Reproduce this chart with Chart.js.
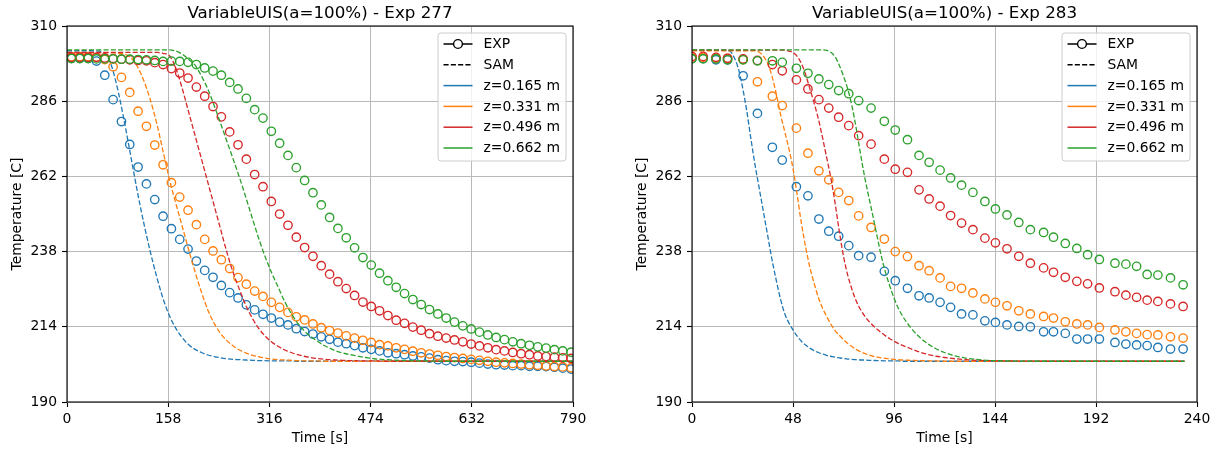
<!DOCTYPE html>
<html><head><meta charset="utf-8">
<script src="https://cdn.jsdelivr.net/npm/chart.js@4.4.1/dist/chart.umd.min.js"></script>
<style>
html,body{margin:0;padding:0;background:#fff;}
#wrap{position:relative;width:1221px;height:450px;overflow:hidden;background:#fff;}
canvas{position:absolute;top:0;}
</style></head><body>
<div id="wrap">
<canvas id="cL" width="610" height="450" style="left:0px;width:610px;height:450px"></canvas>
<canvas id="cR" width="606" height="450" style="left:615px;width:606px;height:450px"></canvas>
</div>
<script>
// ---------- labels ----------
const titleL = 'VariableUIS(a=100%) - Exp 277';
const titleR = 'VariableUIS(a=100%) - Exp 283';
const xLabel = 'Time [s]';
const yLabel = 'Temperature [C]';
const legendLabels = ['EXP', 'SAM', 'z=0.165 m', 'z=0.331 m', 'z=0.496 m', 'z=0.662 m'];
const zLabels = ['z=0.165 m', 'z=0.331 m', 'z=0.496 m', 'z=0.662 m'];
const colors = ['#1f77b4', '#ff7f0e', '#d62728', '#2ca02c'];

// ---------- ticks ----------
const yTicks = [190, 214, 238, 262, 286, 310];
const xTicksL = [0, 158, 316, 474, 632, 790];
const xTicksR = [0, 48, 96, 144, 192, 240];

// ---------- Exp 277 (left) measured ----------
const timeExpL = [7,20,33,46,59,72,85,98,111,124,137,150,163,176,189,202,215,228,241,254,267,280,293,306,319,332,345,358,371,384,397,410,423,436,449,462,475,488,501,514,527,540,553,566,579,592,605,618,631,644,657,670,683,696,709,722,735,748,761,774,787];
const expL_z165 = [299.7,299.7,299.7,298.8,294.3,286.5,279.5,272.2,265.0,259.6,254.6,249.3,245.3,241.9,238.8,235.0,232.0,229.8,227.2,224.9,223.2,221.0,219.4,218.0,216.8,215.5,214.6,213.4,212.5,211.7,210.8,210.0,209.1,208.6,208.0,207.3,206.8,206.3,205.7,205.4,205.1,204.7,204.4,204.0,203.5,203.2,203.0,202.9,202.7,202.4,202.1,201.9,201.8,201.6,201.6,201.4,201.4,201.3,201.1,200.8,200.5];
const expL_z331 = [300.2,300.2,300.2,300.0,299.3,297.0,293.6,288.8,282.8,278.0,272.0,265.7,260.0,255.4,251.2,246.6,241.9,238.2,235.4,232.6,229.7,227.6,225.4,223.7,221.8,220.2,218.6,217.2,216.2,214.9,213.7,212.8,212.0,211.1,210.4,209.7,209.0,208.3,207.9,207.3,206.8,206.2,205.7,205.3,204.9,204.5,204.2,203.9,203.6,203.3,203.0,202.7,202.5,202.3,202.1,201.9,201.7,201.5,201.3,201.2,200.9];
const expL_z496 = [300.0,300.0,300.0,300.0,299.8,299.6,299.4,299.2,299.0,298.9,298.3,297.7,296.4,295.0,293.4,290.5,287.6,284.3,281.0,276.2,272.1,267.5,262.6,258.7,254.0,250.0,246.4,242.6,239.3,236.5,233.5,230.8,228.4,226.2,224.0,221.9,220.5,219.1,217.6,216.1,215.1,213.9,212.9,211.8,211.0,210.4,209.8,209.2,208.5,207.9,207.3,206.7,206.3,205.8,205.4,205.1,204.7,204.5,204.3,204.1,203.9];
const expL_z662 = [299.6,299.6,299.6,299.5,299.5,299.5,299.4,299.4,299.3,299.2,299.0,298.7,298.8,298.7,298.4,297.7,296.6,295.6,294.3,292.0,289.9,286.9,283.3,280.6,276.4,272.6,268.7,264.8,260.7,256.8,252.9,248.9,245.4,242.4,239.2,236.1,233.7,231.1,228.7,226.6,224.6,222.7,221.1,219.5,218.1,216.8,215.5,214.3,213.3,212.3,211.4,210.6,209.9,209.2,208.6,208.1,207.6,207.2,206.7,206.3,205.9];

// ---------- Exp 277 (left) SAM ----------
const samTimeL = [0,40,55,60,65,70,80,90,100,110,120,130,140,150,160,170,180,190,200,210,220,230,240,250,260,270,280,290,300,310,320,330,340,350,360,370,380,390,400,410,420,430,440,450,460,470,480,500,530,560,600,650,700,789];
const samL_z165 = [302.1,302.1,301.8,301.0,299.5,297.0,289.0,279.0,268.0,257.0,247.0,238.0,230.0,223.0,217.5,213.5,210.5,208.3,206.8,205.8,205.0,204.5,204.1,203.8,203.6,203.5,203.4,203.3,203.2,203.2,203.1,203.1,203.1,203.1,203.0,203.0,203.0,203.0,203.0,203.0,203.0,203.0,203.0,203.0,203.0,203.0,203.0,203.0,203.0,203.0,203.0,203.0,203.0,203.0];
const samL_z331 = [301.4,301.4,301.4,301.4,301.4,301.4,301.3,301.0,299.8,297.0,292.5,286.5,279.0,270.0,261.0,253.3,246.0,238.5,231.5,225.0,219.3,215.0,211.8,209.5,207.8,206.5,205.6,204.9,204.4,204.0,203.7,203.5,203.4,203.3,203.2,203.1,203.1,203.1,203.0,203.0,203.0,203.0,203.0,203.0,203.0,203.0,203.0,203.0,203.0,203.0,203.0,203.0,203.0,203.0];
const samL_z496 = [301.6,301.6,301.6,301.6,301.6,301.6,301.6,301.6,301.6,301.6,301.6,301.6,301.6,301.3,300.5,296.5,290.0,282.5,275.0,267.5,260.0,252.5,245.0,237.5,231.0,225.5,220.5,216.5,213.3,210.9,209.1,207.7,206.6,205.8,205.1,204.6,204.2,203.9,203.7,203.5,203.4,203.3,203.2,203.2,203.1,203.1,203.1,203.0,203.0,203.0,203.0,203.0,203.0,203.0];
const samL_z662 = [302.4,302.4,302.4,302.4,302.4,302.4,302.4,302.4,302.4,302.4,302.4,302.4,302.4,302.4,302.4,302.0,301.0,299.3,297.5,294.0,289.8,284.5,278.8,273.0,267.2,261.2,254.8,248.2,241.8,236.0,231.0,226.5,222.0,218.3,215.2,212.8,211.0,209.5,208.2,207.2,206.3,205.7,205.2,204.8,204.4,204.1,203.8,203.5,203.2,203.1,203.0,203.0,203.0,203.0];

// ---------- Exp 283 (right) measured ----------
const timeExpR = [0,5.3,11.4,16.9,24.3,31.1,38.2,42.9,49.6,55.1,60.3,65.0,69.7,74.5,79.2,85.1,91.4,96.6,102.4,107.9,112.7,117.9,122.9,128.1,133.5,139.2,144.2,149.7,155.3,160.8,167.1,171.8,177.4,182.9,188.0,193.6,201.0,206.2,211.3,216.3,221.4,227.4,233.4];
const expR_z165 = [299.7,299.7,299.2,299.2,294.1,282.1,271.3,267.2,258.7,255.8,248.4,244.5,242.9,239.9,236.7,236.2,231.7,228.7,226.3,223.9,223.2,221.8,220.2,218.1,217.8,215.9,215.4,214.6,214.1,214.0,212.4,212.4,211.9,210.1,210.1,210.1,209.0,208.5,208.2,208.0,207.4,206.9,206.9];
const expR_z331 = [300.0,300.0,299.7,299.7,299.3,292.2,287.6,284.6,277.4,269.4,263.8,260.9,256.9,254.3,249.4,245.7,242.0,238.0,236.4,233.5,231.9,229.6,226.9,226.3,224.8,222.9,221.8,220.7,219.1,218.1,217.3,216.8,215.6,214.9,214.6,213.8,213.0,212.4,211.9,211.5,211.4,210.8,210.4];
const expR_z496 = [300.3,300.3,300.0,299.7,299.5,299.0,297.7,295.7,292.8,289.9,286.5,283.8,280.9,278.2,275.0,272.3,267.5,264.3,263.3,257.7,254.8,252.5,249.5,247.1,245.0,242.3,240.8,238.9,236.5,234.3,232.8,231.4,229.8,228.5,227.7,226.4,225.2,224.1,223.4,222.5,222.1,221.3,220.5];
const expR_z662 = [299.5,299.5,299.5,299.2,299.2,298.9,298.9,298.4,296.5,294.9,293.1,291.3,289.4,288.4,286.2,283.8,279.6,276.8,273.7,268.7,266.5,264.0,261.5,259.2,256.9,254.0,251.6,249.7,247.3,245.0,244.1,242.6,240.6,239.0,237.0,235.5,234.3,234.0,233.3,230.7,230.5,229.6,227.4];

// ---------- Exp 283 (right) SAM ----------
const samTimeR = [0,15,18,20,22,24,26,28,30,32,34,36,38,40,42,44,46,48,50,52,54,56,58,60,62,64,66,68,70,72,74,76,78,80,82,84,86,88,90,92,94,96,98,100,104,108,112,116,120,125,130,135,140,150,170,200,234];
const samR_z165 = [302.3,302.3,302.0,300.0,296.5,290.5,283.0,274.0,265.5,258.0,250.5,243.0,235.5,229.0,223.0,218.3,215.3,213.0,211.0,209.4,208.2,207.2,206.4,205.8,205.3,204.9,204.6,204.3,204.1,203.9,203.7,203.6,203.5,203.4,203.4,203.3,203.3,203.2,203.2,203.1,203.1,203.1,203.1,203.0,203.0,203.0,203.0,203.0,203.0,203.0,203.0,203.0,203.0,203.0,203.0,203.0,203.0];
const samR_z331 = [302.1,302.1,302.1,302.1,302.1,302.1,302.1,302.1,302.1,301.6,300.3,298.0,294.0,288.5,282.0,276.5,271.0,264.5,256.0,247.0,239.5,233.0,228.0,223.5,220.0,217.3,214.8,212.8,211.3,209.9,208.7,207.7,206.8,206.1,205.5,205.0,204.6,204.3,204.1,203.9,203.8,203.6,203.5,203.4,203.3,203.2,203.1,203.1,203.0,203.0,203.0,203.0,203.0,203.0,203.0,203.0,203.0];
const samR_z496 = [302.3,302.3,302.3,302.3,302.3,302.3,302.3,302.3,302.3,302.3,302.3,302.3,302.3,302.3,302.3,302.3,302.0,301.5,300.3,298.0,294.5,290.0,285.5,280.5,274.5,268.0,261.5,253.5,244.5,236.5,230.5,226.0,222.3,219.6,217.5,215.8,214.4,213.2,212.1,211.1,210.2,209.4,208.7,208.1,207.0,206.0,205.2,204.6,204.2,203.8,203.5,203.3,203.2,203.1,203.0,203.0,203.0];
const samR_z662 = [302.4,302.4,302.4,302.4,302.4,302.4,302.4,302.4,302.4,302.4,302.4,302.4,302.4,302.4,302.4,302.4,302.4,302.4,302.4,302.4,302.4,302.4,302.4,302.4,302.4,302.2,301.6,300.2,297.5,294.0,289.9,284.5,277.5,269.5,262.0,255.5,249.3,242.8,236.5,231.3,227.0,223.2,220.0,217.5,213.7,210.8,208.6,207.0,205.8,204.7,204.0,203.6,203.3,203.1,203.0,203.0,203.0];

// ---------- drawing ----------
const FONT = '"DejaVu Sans", "Liberation Sans", sans-serif';
const tickFont = { family: FONT, size: 13.9 };

const deco = {
  id: 'deco',
  afterDraw(chart, args, o) {
    const ctx = chart.ctx, a = chart.chartArea;
    ctx.save();
    ctx.strokeStyle = '#000';
    ctx.lineWidth = 1.1;
    ctx.strokeRect(a.left, a.top, a.right - a.left, a.bottom - a.top);
    ctx.fillStyle = '#000';
    ctx.textAlign = 'center';
    ctx.textBaseline = 'alphabetic';
    ctx.font = '16.7px ' + FONT;
    ctx.fillText(o.title, (a.left + a.right) / 2, a.top - 8);
    ctx.font = '13.9px ' + FONT;
    ctx.textBaseline = 'middle';
    ctx.fillText(o.xLabel, (a.left + a.right) / 2, 438);
    ctx.save();
    ctx.translate(a.left - 50, (a.top + a.bottom) / 2);
    ctx.rotate(-Math.PI / 2);
    ctx.fillText(o.yLabel, 0, 0);
    ctx.restore();

    const bw = 128, bh = 128, bx = a.right - 7 - bw, by = a.top + 7, r = 3;
    ctx.beginPath();
    ctx.moveTo(bx + r, by);
    ctx.lineTo(bx + bw - r, by);
    ctx.arcTo(bx + bw, by, bx + bw, by + r, r);
    ctx.lineTo(bx + bw, by + bh - r);
    ctx.arcTo(bx + bw, by + bh, bx + bw - r, by + bh, r);
    ctx.lineTo(bx + r, by + bh);
    ctx.arcTo(bx, by + bh, bx, by + bh - r, r);
    ctx.lineTo(bx, by + r);
    ctx.arcTo(bx, by, bx + r, by, r);
    ctx.closePath();
    ctx.fillStyle = 'rgba(255,255,255,0.8)';
    ctx.fill();
    ctx.strokeStyle = '#cccccc';
    ctx.lineWidth = 1;
    ctx.stroke();

    const hx0 = bx + 5.5, hx1 = bx + 34.5;
    ctx.font = '13.9px ' + FONT;
    ctx.textAlign = 'left';
    ctx.textBaseline = 'middle';
    legendLabels.forEach((lab, i) => {
      const y = by + 11 + i * 20.8;
      ctx.save();
      ctx.lineWidth = 1.5;
      if (i === 0) {
        ctx.strokeStyle = '#000';
        ctx.beginPath(); ctx.moveTo(hx0, y); ctx.lineTo(hx1, y); ctx.stroke();
        ctx.beginPath(); ctx.arc((hx0 + hx1) / 2, y, 4.4, 0, Math.PI * 2);
        ctx.fillStyle = '#fff'; ctx.fill();
        ctx.lineWidth = 1.4; ctx.stroke();
      } else if (i === 1) {
        ctx.strokeStyle = '#000';
        ctx.setLineDash([5.1, 2.2]);
        ctx.beginPath(); ctx.moveTo(hx0, y); ctx.lineTo(hx1, y); ctx.stroke();
      } else {
        ctx.strokeStyle = colors[i - 2];
        ctx.beginPath(); ctx.moveTo(hx0, y); ctx.lineTo(hx1, y); ctx.stroke();
      }
      ctx.restore();
      ctx.fillStyle = '#000';
      ctx.fillText(lab, bx + 45.5, y + 0.5);
    });
    ctx.restore();
  }
};

function build(id, W, areaLeft, areaRight, xTicks, title, expT, expS, samT, samS) {
  const ds = [];
  for (let k = 0; k < 4; k++) {
    ds.push({
      label: 'EXP ' + zLabels[k],
      data: expT.map((t, i) => ({ x: t, y: expS[k][i] })),
      showLine: false,
      pointStyle: 'circle',
      pointRadius: 4.2,
      pointBorderWidth: 1.35,
      pointBorderColor: colors[k],
      pointBackgroundColor: 'rgba(0,0,0,0)',
      borderColor: colors[k],
      clip: 0
    });
    ds.push({
      label: 'SAM ' + zLabels[k],
      data: samT.map((t, i) => ({ x: t, y: samS[k][i] })),
      showLine: true,
      pointRadius: 0,
      borderColor: colors[k],
      borderWidth: 1.3,
      borderDash: [5.1, 2.2],
      cubicInterpolationMode: 'monotone',
      fill: false,
      clip: 0
    });
  }
  ds.reverse();
  return new Chart(document.getElementById(id), {
    type: 'scatter',
    data: { datasets: ds },
    options: {
      responsive: false,
      animation: false,
      devicePixelRatio: 1,
      events: [],
      layout: { padding: { top: 26, left: 0, right: W - areaRight, bottom: 0 } },
      plugins: {
        legend: { display: false },
        tooltip: { enabled: false },
        deco: { title: title, xLabel: xLabel, yLabel: yLabel }
      },
      scales: {
        x: {
          type: 'linear',
          min: xTicks[0], max: xTicks[xTicks.length - 1],
          afterBuildTicks(s) { s.ticks = xTicks.map(v => ({ value: v })); },
          afterFit(s) { s.height = 48; },
          grid: { color: '#b9b9b9', lineWidth: 1, tickColor: '#000', tickLength: 5, tickWidth: 1.1 },
          border: { display: false },
          ticks: { font: tickFont, color: '#000', padding: 4, maxRotation: 0, autoSkip: false }
        },
        y: {
          type: 'linear',
          min: yTicks[0], max: yTicks[yTicks.length - 1],
          afterBuildTicks(s) { s.ticks = yTicks.map(v => ({ value: v })); },
          afterFit(s) { s.width = areaLeft; },
          grid: { color: '#b9b9b9', lineWidth: 1, tickColor: '#000', tickLength: 5, tickWidth: 1.1 },
          border: { display: false },
          ticks: { font: tickFont, color: '#000', padding: 5, autoSkip: false }
        }
      }
    },
    plugins: [deco]
  });
}

build('cL', 610, 67, 573, xTicksL, titleL, timeExpL,
  [expL_z165, expL_z331, expL_z496, expL_z662], samTimeL,
  [samL_z165, samL_z331, samL_z496, samL_z662]);
build('cR', 606, 77, 582, xTicksR, titleR, timeExpR,
  [expR_z165, expR_z331, expR_z496, expR_z662], samTimeR,
  [samR_z165, samR_z331, samR_z496, samR_z662]);
</script>
</body></html>
